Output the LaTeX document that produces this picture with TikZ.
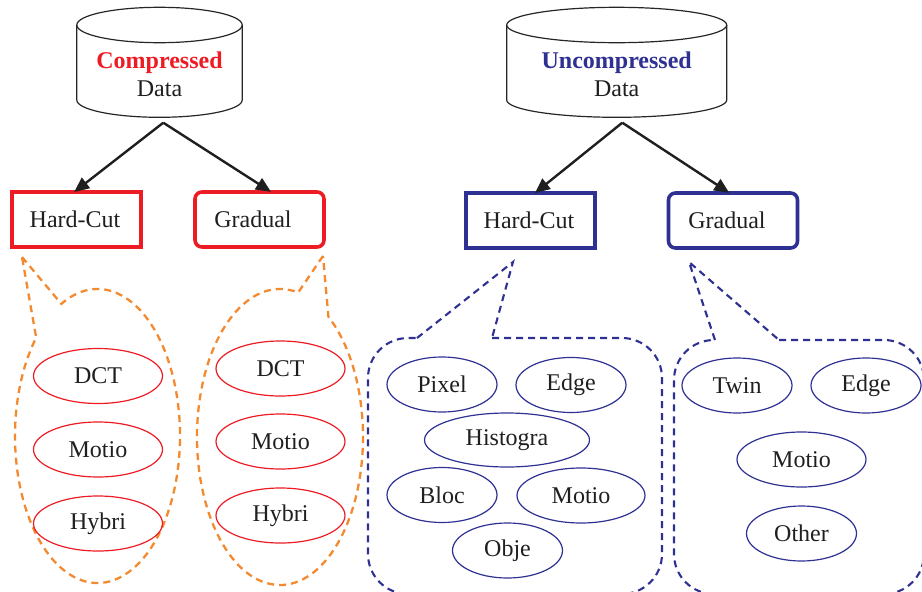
\documentclass[tikz,border=0pt]{standalone}
\usepackage{fontspec}
\setmainfont{Liberation Serif}
\usepackage{xcolor}
\usetikzlibrary{shapes.geometric,arrows.meta}
\definecolor{cred}{RGB}{237,28,36}
\definecolor{ublue}{RGB}{46,49,146}
\definecolor{corange}{RGB}{243,138,48}
\tikzset{
  txt/.style={font=\fontsize{24}{28.5}\selectfont, text=black!88},
  dbline/.style={line width=1.2pt, black!85},
  arr/.style={line width=2.4pt, black!88, -{Triangle[length=15pt,width=13pt]}, shorten >=-3pt},
  redbox/.style={txt, draw=cred, line width=3.6pt, minimum width=129pt, minimum height=55pt, inner sep=0pt},
  bluebox/.style={txt, draw=ublue, line width=3.6pt, minimum width=129pt, minimum height=55pt, inner sep=0pt},
  redell/.style={txt, ellipse, draw=cred, line width=1.2pt, minimum width=129pt, minimum height=55pt, inner sep=0pt},
  blueell/.style={txt, ellipse, draw=ublue, line width=1.2pt, minimum width=110pt, minimum height=55pt, inner sep=0pt},
  odash/.style={corange, line width=2.3pt, dash pattern=on 7pt off 5pt},
  bdash/.style={ublue, line width=2.1pt, dash pattern=on 7pt off 5pt}
}
\begin{document}
\begin{tikzpicture}[x=1pt,y=-1pt]
\useasboundingbox (0,0) rectangle (922,592);
% compressed data
\draw[dbline] (76.8,25) -- (76.8,100) arc[start angle=180,end angle=0,x radius=82.7,y radius=17.3] -- (242.2,25);
\draw[dbline] (159.5,25) ellipse[x radius=82.7,y radius=17.7];
\node[txt,align=center] (cdata) at (159.5,74.5) {\textcolor{cred}{\textbf{Compressed}}\\Data};
% uncompressed data
\draw[dbline] (506.7,25) -- (506.7,100) arc[start angle=180,end angle=0,x radius=110,y radius=17.3] -- (726.7,25);
\draw[dbline] (616.7,25) ellipse[x radius=110,y radius=17.7];
\node[txt,align=center] (udata) at (616.7,74.5) {\textcolor{ublue}{\textbf{Uncompressed}}\\Data};

\node[redbox] (chard) at (76.5,219.5) {Hard-Cut\hspace*{3pt}};
\node[redbox,rounded corners=7pt] (cgrad) at (259.5,219.5) {Gradual\hspace*{13pt}};
\node[bluebox] (uhard) at (530.5,220.5) {Hard-Cut\hspace*{3pt}};
\node[bluebox,rounded corners=7pt] (ugrad) at (733,220.5) {Gradual\hspace*{12pt}};

\coordinate (csplit) at (163.3,122.7);
\coordinate (usplit) at (622.3,122.7);
\draw[arr] (csplit) -- (chard.north);
\draw[arr] (csplit) -- (cgrad.73);
\draw[arr] (usplit) -- (uhard.77);
\draw[arr] (usplit) -- (ugrad.102);

% callouts
\coordinate (ctip1) at (22,257);
\coordinate (ctip2) at (323,256);
\draw[odash] (ctip1) -- ([shift={(97.5,436)}]-116:82.5 and 147)
  arc[start angle=-116,end angle=222,x radius=82.5,y radius=147] -- cycle;
\draw[odash] (ctip2) -- ([shift={(280,437)}]-77.4:83 and 148)
  arc[start angle=-77.4,end angle=-414.3,x radius=83,y radius=148] -- cycle;
\coordinate (utip1) at (513,262);
\coordinate (utip2) at (689,262);
\draw[bdash] (417,338) -- (utip1) -- (492,338) (492,338) [rounded corners=40pt]
  -- (662,338) -- (662,594) -- (368,594) -- (368,338) -- (417,338);
\draw[bdash] (715,340) -- (utip2) -- (779,340) (779,340) [rounded corners=40pt]
  -- (924,340) -- (924,594) -- (674,594) -- (674,340) -- (715,340);

\node[redell] (c1dct) at (98,376) {DCT};
\node[redell] (c1mot) at (98,449.5) {Motio};
\node[redell] (c1hyb) at (98,523.5) {Hybri};
\node[redell] (c2dct) at (280.5,368.5) {DCT};
\node[redell] (c2mot) at (280.5,441.5) {Motio};
\node[redell] (c2hyb) at (280.5,515.5) {Hybri};

\node[blueell] (upix) at (442,384.5) {Pixel};
\node[blueell] (uedge1) at (571,385) {Edge};
\node[blueell,minimum width=165pt,minimum height=54pt] (uhist) at (507,440) {Histogra};
\node[blueell] (ubloc) at (442,495) {Bloc};
\node[blueell,minimum width=128pt] (umot1) at (581,495.5) {Motio};
\node[blueell] (uobj) at (507.5,550.5) {Obje};
\node[blueell] (utwin) at (737,385.5) {Twin};
\node[blueell] (uedge2) at (866,385.5) {Edge};
\node[blueell,minimum width=129pt] (umot2) at (801.5,459.5) {Motio};
\node[blueell] (uoth) at (801.5,533.5) {Other};
\end{tikzpicture}
\end{document}
